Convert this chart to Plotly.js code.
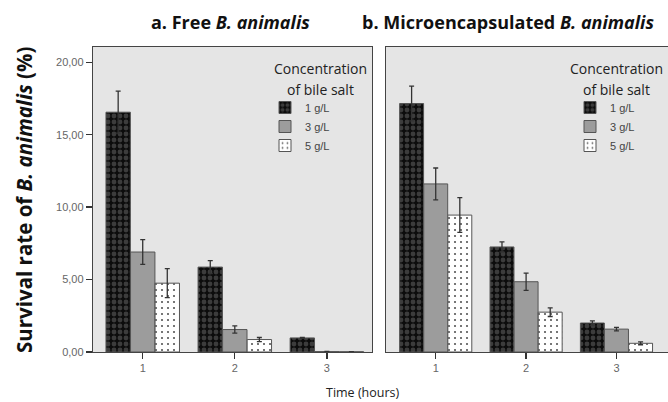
<!DOCTYPE html>
<html>
<head>
<meta charset="utf-8">
<script src="https://cdn.plot.ly/plotly-3.0.1.min.js"></script>
<style>html,body{margin:0;padding:0;background:#fff;}#chart{width:668px;height:402px;}</style>
</head>
<body>
<div id="chart"></div>
<script>
// ---- data ----
const times = [1, 2, 3];
const seriesNames = ["1 g/L", "3 g/L", "5 g/L"];
// Panel a: Free B. animalis
const freeMean1 = [16.55, 5.86, 0.97];
const freeErr1  = [1.45, 0.45, 0.03];
const freeMean3 = [6.9, 1.55, 0.03];
const freeErr3  = [0.85, 0.25, 0.01];
const freeMean5 = [4.75, 0.86, 0.02];
const freeErr5  = [1.0, 0.14, 0.01];
// Panel b: Microencapsulated B. animalis
const encMean1 = [17.15, 7.25, 2.0];
const encErr1  = [1.2, 0.35, 0.15];
const encMean3 = [11.6, 4.85, 1.58];
const encErr3  = [1.1, 0.6, 0.12];
const encMean5 = [9.45, 2.75, 0.6];
const encErr5  = [1.2, 0.3, 0.1];
const yTickVals = [0, 5, 10, 15, 20];
const yTickText = ["0,00", "5,00", "10,00", "15,00", "20,00"];

const styles = [
  {color: "#111111", pattern: {shape: ".", fgcolor: "#3c3c3c", bgcolor: "#0c0c0c", size: 6, solidity: 0.5}},
  {color: "#9c9c9c", pattern: {shape: ""}},
  {color: "#ffffff", pattern: {shape: ".", fgcolor: "#555", bgcolor: "#ffffff", size: 6, solidity: 0.1}}
];

function mk(y, err, i, xa, ya, leg) {
  return {
    type: "bar", x: times, y: y, name: seriesNames[i],
    xaxis: xa, yaxis: ya, legend: leg,
    marker: {color: styles[i].color, pattern: styles[i].pattern, line: {color: "#555", width: 1}},
    error_y: {type: "data", array: err, visible: true, color: "#333", thickness: 1.3, width: 2.5},
    width: 0.265
  };
}

const data = [
  mk(freeMean1, freeErr1, 0, "x", "y", "legend"),
  mk(freeMean3, freeErr3, 1, "x", "y", "legend"),
  mk(freeMean5, freeErr5, 2, "x", "y", "legend"),
  mk(encMean1, encErr1, 0, "x2", "y2", "legend2"),
  mk(encMean3, encErr3, 1, "x2", "y2", "legend2"),
  mk(encMean5, encErr5, 2, "x2", "y2", "legend2")
];

const W = 668, H = 402;
const px = v => v / W, py = v => 1 - v / H;
const tickFont = {family: "Liberation Sans, Arial", size: 11, color: "#666"};
const axCommon = {
  showgrid: false, zeroline: false, showline: true, linecolor: "#444", linewidth: 1.2, mirror: true,
  ticks: "outside", ticklen: 6, tickcolor: "#333", tickwidth: 1.3, tickfont: tickFont, fixedrange: true
};
const legCommon = {
  font: {family: "Liberation Sans, Arial", size: 11, color: "#444"},
  bgcolor: "rgba(0,0,0,0)", itemwidth: 30, tracegroupgap: 0, xanchor: "left", yanchor: "top"
};
const titleFont = {family: "Open Sans", size: 14, color: "#222"};

const layout = {
  width: W, height: H,
  margin: {l: 0, r: 0, t: 0, b: 0},
  paper_bgcolor: "#ffffff", plot_bgcolor: "#e5e5e5",
  barmode: "group", bargap: 0.2, bargroupgap: 0,
  showlegend: true,
  xaxis: Object.assign({}, axCommon, {domain: [px(93), px(372)], range: [0.46, 3.49], tickvals: times, ticktext: ["1","2","3"], anchor: "y"}),
  yaxis: Object.assign({}, axCommon, {domain: [py(352), py(47)], range: [0, 21.05], tickvals: yTickVals, ticktext: yTickText, anchor: "x"}),
  xaxis2: Object.assign({}, axCommon, {domain: [px(386), px(672)], range: [0.45, 3.57], tickvals: times, ticktext: ["1","2","3"], anchor: "y2"}),
  yaxis2: Object.assign({}, axCommon, {domain: [py(352), py(47)], range: [0, 21.05], ticks: "", showticklabels: false, anchor: "x2"}),
  legend: Object.assign({}, legCommon, {x: px(265), y: py(93)}),
  legend2: Object.assign({}, legCommon, {x: px(570), y: py(93)}),
  annotations: [
    {text: "<b>a.</b> <b>Free <i>B. animalis</i></b>", xref: "paper", yref: "paper", x: px(230), y: py(22), xanchor: "center", yanchor: "middle", showarrow: false, font: {family: "Open Sans", size: 18, color: "#111"}},
    {text: "<b>b.</b> <b>Microencapsulated <i>B. animalis</i></b>", xref: "paper", yref: "paper", x: px(508), y: py(22), xanchor: "center", yanchor: "middle", showarrow: false, font: {family: "Open Sans", size: 18, color: "#111"}},
    {text: "<b>Survival rate of <i>B. animalis</i> (%)</b>", xref: "paper", yref: "paper", x: px(24), y: py(200), textangle: -90, xanchor: "center", yanchor: "middle", showarrow: false, font: {family: "Open Sans", size: 20.5, color: "#111"}},
    {text: "Time (hours)", xref: "paper", yref: "paper", x: px(362), y: py(392), xanchor: "center", yanchor: "middle", showarrow: false, font: {family: "Open Sans", size: 12.5, color: "#222"}},
    {text: "Concentration", xref: "paper", yref: "paper", x: px(320), y: py(68), xanchor: "center", yanchor: "middle", showarrow: false, font: titleFont},
    {text: "of bile salt", xref: "paper", yref: "paper", x: px(320), y: py(90), xanchor: "center", yanchor: "middle", showarrow: false, font: titleFont},
    {text: "Concentration", xref: "paper", yref: "paper", x: px(616), y: py(68), xanchor: "center", yanchor: "middle", showarrow: false, font: titleFont},
    {text: "of bile salt", xref: "paper", yref: "paper", x: px(616), y: py(90), xanchor: "center", yanchor: "middle", showarrow: false, font: titleFont}
  ]
};

Plotly.newPlot("chart", data, layout, {displayModeBar: false, staticPlot: true});
</script>
</body>
</html>
